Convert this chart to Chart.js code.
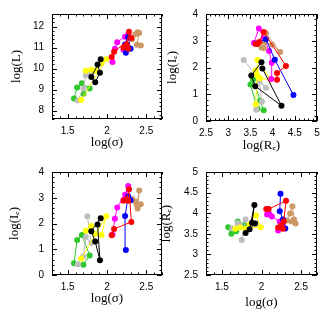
<!DOCTYPE html>
<html lang="en">
<head>
  <meta charset="UTF-8">
  <title>Scaling relations</title>
  <script src="https://cdn.jsdelivr.net/npm/chart.js"></script>
  <style>
    body { margin: 0; background: #fff; }
    #wrap { position: relative; width: 333px; height: 316px; }
    canvas { position: absolute; }
  </style>
</head>
<body>
<div id="wrap">
  <canvas id="pL" width="166" height="158" style="left:0;top:0"></canvas>
  <canvas id="pI" width="183" height="158" style="left:150px;top:0"></canvas>
  <canvas id="pS" width="166" height="158" style="left:0;top:158px"></canvas>
  <canvas id="pR" width="183" height="158" style="left:150px;top:158px"></canvas>
</div>
<script>
  // groups, top of the drawing first
  const groupColors = ['#ff0000', '#0000ff', '#cc9966', '#ff00ff', '#000000', '#ffff00', '#bebebe', '#2ec82e'];

  // per group: log(sigma), log(L), log(Re), log(Ie), in drawing order of the connecting line
  const logSigma = [
    [2.06, 2.09, 2.31, 2.28, 2.25, 2.21, 2.27],
    [2.24, 2.23, 2.27, 2.30],
    [2.32, 2.36, 2.39, 2.41, 2.38, 2.43],
    [2.07, 2.10, 2.13, 2.23, 2.27, 2.21],
    [1.92, 1.80, 1.85, 1.91, 1.88],
    [1.67, 1.99, 1.93, 1.85, 1.80, 1.73],
    [1.63, 1.70, 1.73, 1.80, 1.75],
    [1.58, 1.62, 1.68, 1.78, 1.70]
  ];
  const logL = [
    [10.55, 10.80, 11.46, 11.75, 11.15, 11.00, 10.95],
    [10.75, 11.15, 11.50, 10.95],
    [11.40, 11.63, 11.73, 11.70, 11.13, 11.10],
    [10.32, 10.94, 11.26, 11.52, 11.64, 10.90],
    [10.45, 9.60, 9.35, 9.80, 10.20],
    [8.50, 10.45, 10.25, 9.90, 9.95, 9.90],
    [8.48, 9.05, 9.68, 9.74, 9.78],
    [8.58, 9.10, 9.30, 9.05, 8.80]
  ];
  const logRe = [
    [4.10, 4.10, 4.30, 3.80, 3.70, 3.65, 3.62],
    [4.47, 4.05, 3.85, 3.63],
    [3.82, 3.99, 4.17, 3.85, 3.80, 3.75],
    [3.97, 3.98, 3.92, 3.80, 3.69, 3.58],
    [3.75, 3.52, 3.61, 4.20, 3.77],
    [3.62, 3.66, 3.95, 3.72, 3.62, 3.65],
    [3.63, 3.76, 3.70, 3.85, 3.35],
    [3.66, 3.50, 3.56, 3.72, 3.80]
  ];
  const logIe = [
    [1.54, 1.79, 2.06, 3.33, 2.95, 2.88, 2.88],
    [0.97, 2.29, 3.06, 2.90],
    [2.95, 2.85, 2.58, 3.28, 2.73, 2.75],
    [1.57, 2.18, 2.62, 3.12, 3.46, 2.92],
    [2.20, 1.70, 1.30, 0.57, 1.96],
    [0.63, 2.28, 1.55, 1.60, 1.90, 1.72],
    [0.42, 0.73, 1.48, 1.24, 2.28],
    [0.46, 1.36, 1.55, 0.76, 0.40]
  ];

  const sigmaTicks = [1.5, 2, 2.5];
  const lumTicks = [8, 9, 10, 11, 12];
  const reTicks = [2.5, 3, 3.5, 4, 4.5, 5];
  const ieTicks = [0, 1, 2, 3, 4];
  const reYTicks = [2.5, 3, 3.5, 4, 4.5, 5];

  // inward major/minor ticks on all four sides plus the box
  const frameTicks = {
    id: 'frameTicks',
    afterDraw(chart, args, opts) {
      const { ctx, chartArea: a, scales } = chart;
      ctx.save();
      ctx.strokeStyle = '#000';
      ctx.lineWidth = 1;
      ctx.strokeRect(Math.round(a.left) + 0.5, Math.round(a.top) + 0.5,
        Math.round(a.right - a.left) - 1, Math.round(a.bottom - a.top) - 1);
      ctx.beginPath();
      ['x', 'y'].forEach(k => {
        const s = scales[k];
        const minor = opts[k][0], major = opts[k][1];
        const n0 = Math.ceil(s.min / minor - 1e-6), n1 = Math.floor(s.max / minor + 1e-6);
        for (let n = n0; n <= n1; n++) {
          const v = n * minor;
          const r = v / major;
          const len = Math.abs(r - Math.round(r)) < 1e-6 ? 5 : 2.5;
          const p = Math.round(s.getPixelForValue(v)) + 0.5;
          if (k === 'x') {
            ctx.moveTo(p, a.bottom); ctx.lineTo(p, a.bottom - len);
            ctx.moveTo(p, a.top); ctx.lineTo(p, a.top + len);
          } else {
            ctx.moveTo(a.left, p); ctx.lineTo(a.left + len, p);
            ctx.moveTo(a.right, p); ctx.lineTo(a.right - len, p);
          }
        }
      });
      ctx.stroke();
      ctx.restore();
    }
  };

  const tickFont = { family: 'Liberation Sans', size: 10 };
  const titleFont = { family: 'Liberation Serif', size: 13 };
  const plainLabel = v => String(Math.round(v * 100) / 100);

  function makePanel(id, xs, ys, p) {
    const datasets = groupColors.map((c, i) => ({
      data: xs[i].map((v, j) => ({ x: v, y: ys[i][j] })),
      showLine: true,
      borderColor: c,
      backgroundColor: c,
      borderWidth: 1,
      pointRadius: 3,
      pointBorderWidth: 0,
      pointBackgroundColor: c
    }));
    new Chart(document.getElementById(id), {
      type: 'scatter',
      data: { datasets },
      plugins: [frameTicks],
      options: {
        responsive: false,
        animation: false,
        layout: { padding: { top: p.top, right: p.right, left: 0, bottom: 0 } },
        plugins: {
          legend: { display: false },
          tooltip: { enabled: false },
          frameTicks: { x: p.xMinor, y: p.yMinor }
        },
        scales: {
          x: {
            type: 'linear', min: p.xMin, max: p.xMax,
            grid: { display: false, drawTicks: false },
            border: { display: false },
            afterFit: s => { s.height = p.xH; },
            afterBuildTicks: s => { s.ticks = p.xTicks.map(v => ({ value: v })); },
            ticks: { font: tickFont, color: '#000', padding: 6, maxRotation: 0, autoSkip: false,
              callback: plainLabel },
            title: { display: true, text: p.xTitle, font: titleFont, color: '#000',
              padding: { top: 0, bottom: p.xTitlePad } }
          },
          y: {
            type: 'linear', min: p.yMin, max: p.yMax,
            grid: { display: false, drawTicks: false },
            border: { display: false },
            afterFit: s => { s.width = p.yW; },
            afterBuildTicks: s => { s.ticks = p.yTicks.map(v => ({ value: v })); },
            ticks: { font: tickFont, color: '#000', padding: 8, autoSkip: false,
              callback: plainLabel },
            title: { display: true, text: p.yTitle, font: titleFont, color: '#000',
              padding: { top: p.yTitlePad, bottom: 0 } }
          }
        }
      }
    });
  }

  makePanel('pL', logSigma, logL, {
    top: 10, right: 4, xH: 39, yW: 52,
    xMin: 1.3, xMax: 2.7, yMin: 7.6, yMax: 12.6,
    xTicks: sigmaTicks, yTicks: lumTicks, xMinor: [0.1, 0.5], yMinor: [0.2, 1],
    xTitle: 'log(σ)', yTitle: 'log(L)', xTitlePad: 8, yTitlePad: 9
  });
  makePanel('pI', logRe, logIe, {
    top: 10, right: 16, xH: 37, yW: 56,
    xMin: 2.5, xMax: 5, yMin: 0, yMax: 4,
    xTicks: reTicks, yTicks: ieTicks, xMinor: [0.1, 0.5], yMinor: [0.2, 1],
    xTitle: 'log(Rₑ)', yTitle: 'log(Iₑ)', xTitlePad: 5, yTitlePad: 15
  });
  makePanel('pS', logSigma, logIe, {
    top: 7, right: 4, xH: 41, yW: 52,
    xMin: 1.3, xMax: 2.7, yMin: 0, yMax: 4,
    xTicks: sigmaTicks, yTicks: ieTicks, xMinor: [0.1, 0.5], yMinor: [0.2, 1],
    xTitle: 'log(σ)', yTitle: 'log(Iₑ)', xTitlePad: 10, yTitlePad: 7
  });
  makePanel('pR', logSigma, logRe, {
    top: 6, right: 16, xH: 41, yW: 56,
    xMin: 1.3, xMax: 2.7, yMin: 2.5, yMax: 5,
    xTicks: sigmaTicks, yTicks: reYTicks, xMinor: [0.1, 0.5], yMinor: [0.1, 0.5],
    xTitle: 'log(σ)', yTitle: 'log(Rₑ)', xTitlePad: 6, yTitlePad: 9
  });
</script>
</body>
</html>
